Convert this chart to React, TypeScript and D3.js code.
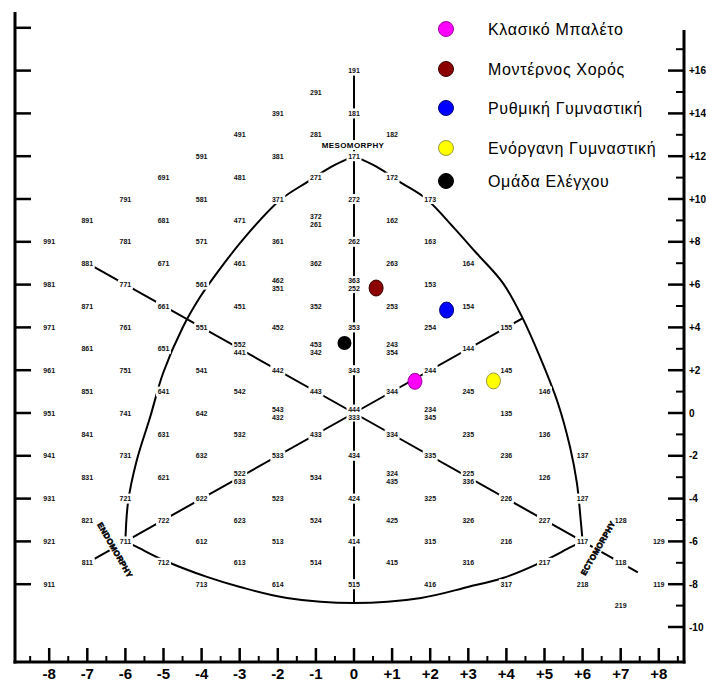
import React from 'react';
import * as d3 from 'd3';

const W = 706;
const H = 684;
const FONT = '"Liberation Sans", Arial, sans-serif';

// Somatotype grid labels (endo-meso-ecto); "a/b" = two labels printed on the same spot
const GRID_LABELS: string[] = [
  '191', '291', '391', '181', '491', '281', '182', '591', '381', '171',
  '691', '481', '271', '172', '791', '581', '371', '272', '173',
  '891', '681', '471', '372/261', '162',
  '991', '781', '571', '361', '262', '163',
  '881', '671', '461', '362', '263', '164',
  '981', '771', '561', '462/351', '363/252', '153',
  '871', '661', '451', '352', '253', '154',
  '971', '761', '551', '452', '353', '254', '155',
  '861', '651', '552/441', '453/342', '243/354', '144',
  '961', '751', '541', '442', '343', '244', '145',
  '851', '641', '542', '443', '344', '245', '146',
  '951', '741', '642', '543/432', '444/333', '234/345', '135',
  '841', '631', '532', '433', '334', '235', '136',
  '941', '731', '632', '533', '434', '335', '236', '137',
  '831', '621', '522/633', '534', '324/435', '225/336', '126',
  '931', '721', '622', '523', '424', '325', '226', '127',
  '821', '722', '623', '524', '425', '326', '227', '128',
  '921', '711', '612', '513', '414', '315', '216', '117', '129',
  '811', '712', '613', '514', '415', '316', '217', '118',
  '911', '713', '614', '515', '416', '317', '218', '119',
  '219',
];

// Group means (somatochart X, Y)
const GROUPS = ['Κλασικό Μπαλέτο', 'Μοντέρνος Χορός', 'Ρυθμική Γυμναστική', 'Ενόργανη Γυμναστική', 'Ομάδα Ελέγχου'];
const GROUP_X = [1.6, 0.58, 2.43, 3.66, -0.25];
const GROUP_Y = [1.48, 5.84, 4.81, 1.5, 3.27];
const GROUP_FILL = ['#ff00ff', '#8b0000', '#0000ff', '#ffff00', '#000000'];
const GROUP_STROKE = ['#a000a0', '#3a0000', '#00007a', '#9a9a40', '#000000'];

// Straight reference lines [x1, y1, x2, y2]
const REF_LINES: [number, number, number, number][] = [
  [0, 16, 0, -8.88],
  [0, 0, -7, 7],
  [0, 0, 4.42, 4.42],
  [0, 0, -7, -7],
  [0, 0, 7.45, -7.45],
];

// Boundary curves
const LEFT_ARC: [number, number][] = [
  [-6, -6], [-5.93, -4.16], [-5.7, -2.2], [-5.35, -0.19], [-5.01, 1.87], [-4.49, 4.02],
  [-4.04, 5.42], [-3.6, 6.54], [-2.86, 8.22], [-1.94, 9.95], [-1.23, 10.79], [-0.6, 11.5], [0, 12],
];
const RIGHT_ARC: [number, number][] = [
  [0, 12], [0.6, 11.5], [1.21, 10.79], [1.9, 10.0], [2.6, 8.7], [3.2, 7.5], [3.91, 6.07], [4.41, 4.49],
  [4.88, 2.62], [5.35, 0.47], [5.67, -1.59], [5.85, -3.27], [5.95, -5.0], [6, -6],
];
const BOTTOM_ARC: [number, number][] = [
  [-6, -6], [-5.7, -6.26], [-5.01, -6.87], [-3.86, -7.66], [-2.99, -8.13], [-1.76, -8.64], [0, -8.88],
  [1.76, -8.64], [2.99, -8.13], [3.91, -7.71], [4.88, -7.0], [5.7, -6.26], [6, -6],
];

const X_TICKS = [-8, -7, -6, -5, -4, -3, -2, -1, 0, 1, 2, 3, 4, 5, 6, 7, 8];
const X_TICK_LABELS = ['-8', '-7', '-6', '-5', '-4', '-3', '-2', '-1', '0', '+1', '+2', '+3', '+4', '+5', '+6', '+7', '+8'];
const X_MINOR = [-8.5, -7.5, -6.5, -5.5, -4.5, -3.5, -2.5, -1.5, -0.5, 0.5, 1.5, 2.5, 3.5, 4.5, 5.5, 6.5, 7.5, 8.5];
const LEFT_TICKS = [18, 16, 14, 12, 10, 8, 6, 4, 2, 0, -2, -4, -6, -8];
const RIGHT_TICKS = [16, 14, 12, 10, 8, 6, 4, 2, 0, -2, -4, -6, -8, -10];
const RIGHT_TICK_LABELS = ['+16', '+14', '+12', '+10', '+8', '+6', '+4', '+2', '0', '-2', '-4', '-6', '-8', '-10'];
const RIGHT_MINOR = [17, 15, 13, 11, 9, 7, 5, 3, 1, -1, -3, -5, -7, -9];

const xScale = d3.scaleLinear().domain([-8, 8]).range([49.2, 658.8]);
const yScale = d3.scaleLinear().domain([-10, 16]).range([627, 70.6]);

function somatoXY(s: string): [number, number] {
  const en = +s[0], me = +s[1], ec = +s[2];
  return [ec - en, 2 * me - (en + ec)];
}

const curve = d3
  .line<[number, number]>()
  .x((d) => xScale(d[0]))
  .y((d) => yScale(d[1]))
  .curve(d3.curveCatmullRom.alpha(0.5));

export default function App() {
  const axisLeftX = 15;
  const axisRightX = 684;
  const axisBottomY = 662;
  return (
    <svg width={W} height={H} style={{ position: 'absolute', left: 0, top: 0, background: '#fff' }} fontFamily={FONT}>
      <rect x={0} y={0} width={W} height={H} fill="#fff" />
      {/* frame axes */}
      <line x1={axisLeftX} y1={12} x2={axisLeftX} y2={axisBottomY + 1.5} stroke="#000" strokeWidth={3} />
      <line x1={axisRightX} y1={30} x2={axisRightX} y2={axisBottomY + 1.5} stroke="#000" strokeWidth={3} />
      <line x1={axisLeftX - 1.5} y1={axisBottomY} x2={axisRightX + 1.5} y2={axisBottomY} stroke="#000" strokeWidth={3} />
      {LEFT_TICKS.map((t) => (
        <line key={'lt' + t} x1={axisLeftX} x2={axisLeftX + 16} y1={yScale(t)} y2={yScale(t)} stroke="#000" strokeWidth={2.5} />
      ))}
      {RIGHT_TICKS.map((t, i) => (
        <g key={'rt' + t}>
          <line x1={axisRightX - 16} x2={axisRightX} y1={yScale(t)} y2={yScale(t)} stroke="#000" strokeWidth={2.5} />
          <text x={axisRightX + 5} y={yScale(t) + 3.5} fontSize={10} fontWeight="bold" fill="#000">
            {RIGHT_TICK_LABELS[i]}
          </text>
        </g>
      ))}
      {RIGHT_MINOR.map((t) => (
        <line key={'rm' + t} x1={axisRightX - 8} x2={axisRightX} y1={yScale(t)} y2={yScale(t)} stroke="#000" strokeWidth={2} />
      ))}
      {X_TICKS.map((t, i) => (
        <g key={'xt' + t}>
          <line x1={xScale(t)} x2={xScale(t)} y1={axisBottomY} y2={axisBottomY - 14} stroke="#000" strokeWidth={2.5} />
          <text x={xScale(t)} y={679} fontSize={15} fontWeight="bold" textAnchor="middle" fill="#000">
            {X_TICK_LABELS[i]}
          </text>
        </g>
      ))}
      {X_MINOR.map((t) => (
        <line key={'xm' + t} x1={xScale(t)} x2={xScale(t)} y1={axisBottomY} y2={axisBottomY - 6} stroke="#000" strokeWidth={2} />
      ))}

      {/* somatochart lines */}
      {REF_LINES.map((l, i) => (
        <line key={'rl' + i} x1={xScale(l[0])} y1={yScale(l[1])} x2={xScale(l[2])} y2={yScale(l[3])} stroke="#000" strokeWidth={2} />
      ))}
      <path d={curve(LEFT_ARC) || ''} fill="none" stroke="#000" strokeWidth={2} />
      <path d={curve(RIGHT_ARC) || ''} fill="none" stroke="#000" strokeWidth={2} />
      <path d={curve(BOTTOM_ARC) || ''} fill="none" stroke="#000" strokeWidth={2} />

      {/* grid labels */}
      {GRID_LABELS.map((s) => {
        const parts = s.split('/');
        const [gx, gy] = somatoXY(parts[0]);
        const cx = xScale(gx);
        const cy = yScale(gy);
        const h = parts.length > 1 ? 17 : 10;
        return (
          <g key={'gl' + s}>
            <rect x={cx - 7.5} y={cy - h / 2} width={15} height={h} fill="#fff" />
            {parts.map((p, j) => (
              <text
                key={p}
                x={cx}
                y={cy + (parts.length > 1 ? (j === 0 ? -4 : 4) : 0) + 2.5}
                fontSize={7}
                fontWeight="bold"
                textAnchor="middle"
                fill="#111"
              >
                {p}
              </text>
            ))}
          </g>
        );
      })}

      {/* axis names */}
      <g transform={`translate(${xScale(0) - 1},${yScale(12.52)})`}>
        <rect x={-33} y={-5} width={66} height={10} fill="#fff" />
        <text x={0} y={3} fontSize={8} fontWeight={900} textAnchor="middle" letterSpacing={0.4} fill="#000">
          MESOMORPHY
        </text>
      </g>
      <g transform={`translate(${xScale(-6.27)},${yScale(-6.4)}) rotate(60)`}>
        <rect x={-31} y={-5} width={62} height={10} fill="#fff" />
        <text x={0} y={3} fontSize={8} fontWeight={900} textAnchor="middle" letterSpacing={0.4} fill="#000" stroke="#000" strokeWidth={0.6}>
          ENDOMORPHY
        </text>
      </g>
      <g transform={`translate(${xScale(6.4)},${yScale(-6.31)}) rotate(-60)`}>
        <rect x={-31} y={-5} width={62} height={10} fill="#fff" />
        <text x={0} y={3} fontSize={8} fontWeight={900} textAnchor="middle" letterSpacing={0.4} fill="#000" stroke="#000" strokeWidth={0.6}>
          ECTOMORPHY
        </text>
      </g>

      {/* group means */}
      {GROUPS.map((g, i) =>
        i === 4 ? (
          <circle key={g} cx={xScale(GROUP_X[i])} cy={yScale(GROUP_Y[i])} r={7} fill={GROUP_FILL[i]} />
        ) : (
          <ellipse
            key={g}
            cx={xScale(GROUP_X[i])}
            cy={yScale(GROUP_Y[i])}
            rx={7}
            ry={8}
            fill={GROUP_FILL[i]}
            stroke={GROUP_STROKE[i]}
            strokeWidth={1}
          />
        )
      )}

      {/* legend */}
      {GROUPS.map((g, i) => {
        const ly = [29, 69, 108, 148, 181][i];
        return (
          <g key={'lg' + g}>
            <circle cx={446} cy={ly} r={7.5} fill={GROUP_FILL[i]} stroke={GROUP_STROKE[i]} strokeWidth={1} />
            <text x={488} y={ly + 5.5} fontSize={16} letterSpacing={0.65} fill="#000">
              {g}
            </text>
          </g>
        );
      })}
    </svg>
  );
}
